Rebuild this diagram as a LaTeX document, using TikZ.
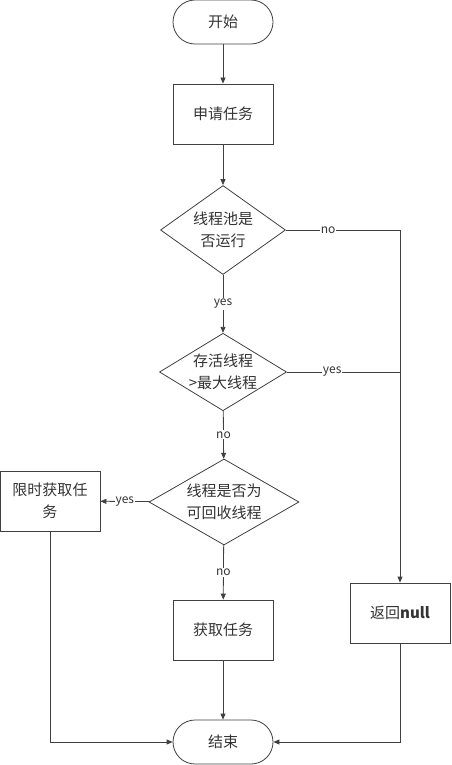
\documentclass[tikz,border=0pt]{standalone}
\usepackage{fontspec}
\setmainfont{Noto Sans CJK SC}
\usetikzlibrary{arrows.meta,shapes.geometric}

\definecolor{linegray}{HTML}{404040}
\definecolor{textgray}{HTML}{333333}

\tikzset{
  flow/.style={draw=linegray, line width=0.8pt},
  arr/.style={flow, -{Triangle[length=6pt,width=5pt]}},
  terminal/.style={flow, rounded corners=22pt, minimum width=100pt, minimum height=44pt, text=textgray, font=\fontsize{15}{22}\selectfont},
  proc/.style={flow, minimum width=100pt, minimum height=60pt, align=center, text=textgray, font=\fontsize{15}{22}\selectfont},
  decide/.style={flow, diamond, inner sep=0pt, align=center, text=textgray, font=\fontsize{15}{22}\selectfont},
  lbl/.style={fill=white, inner sep=1pt, text=textgray, font=\fontsize{12}{14}\selectfont}
}

\begin{document}
\begin{tikzpicture}[x=1pt,y=-1pt]
      \useasboundingbox (0,0) rectangle (451,765);
      % main column
      \node[terminal] (start) at (223,22) {开始};
      \node[proc] (apply) at (223,114) {申请任务};
      \node[decide, minimum width=125pt, minimum height=89pt, aspect=1.4] (run) at (223,230) {线程池是\\否运行};
      \node[decide, minimum width=125pt, minimum height=76pt, aspect=1.64] (maxchk) at (223,372) {存活线程\\>最大线程};
      \node[decide, minimum width=150pt, minimum height=86pt, aspect=1.74] (recyc) at (224,502) {线程是否为\\可回收线程};
      \node[proc] (fetch) at (223,630) {获取任务};
      \node[terminal] (stop) at (223,742) {结束};

      % side boxes
      \node[proc] (timed) at (50,501) {限时获取任\\务};
      \node[proc] (rnull) at (400,613) {返回\textbf{null}};

      % straight down
      \draw[arr] (start) -- (apply);
      \draw[arr] (apply) -- (run);
      \draw[arr] (run) -- node[lbl]{yes} (maxchk);
      \draw[arr] (maxchk) -- node[lbl]{no} (recyc);
      \draw[arr] (recyc) -- node[lbl]{no} (fetch);
      \draw[arr] (fetch) -- (stop);

      % branches
      \draw[arr] (recyc) -- node[lbl]{yes} (timed);
      \draw[arr] (run.east) -- node[lbl,pos=0.37]{no} (run.east -| rnull) -- (rnull);
      \draw[flow] (maxchk.east) -- node[lbl,pos=0.4]{yes} (maxchk.east -| rnull);
      \draw[arr] (timed) -- (timed.south |- stop) -- (stop);
      \draw[arr] (rnull) -- (rnull |- stop) -- (stop);
    \end{tikzpicture}
\end{document}
